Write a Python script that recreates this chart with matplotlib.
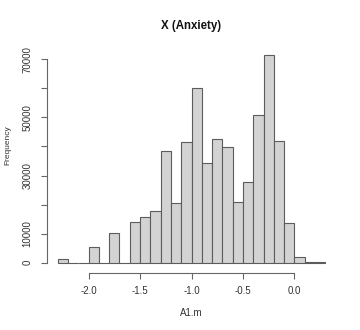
import numpy as np
import matplotlib
matplotlib.use("Agg")
import matplotlib.pyplot as plt

# histogram of A1.m, bins of width 0.1 from -2.3 to 0.3
bin_edges = np.round(np.arange(-2.3, 0.31, 0.1), 2)
counts = [1400, 0, 0, 5300, 0, 10300, 0, 14000, 15600, 17700, 38500, 20600,
          41600, 60200, 34200, 42500, 39900, 21000, 27800, 50900, 71500, 41900,
          13800, 2000, 400, 100]
x_ticks = [-2.0, -1.5, -1.0, -0.5, 0.0]
x_labels = ["-2.0", "-1.5", "-1.0", "-0.5", "0.0"]
y_ticks = [0, 10000, 20000, 30000, 40000, 50000, 60000, 70000]
y_labels = ["0", "10000", "", "30000", "", "50000", "", "70000"]

plt.rcParams['font.family'] = ['Liberation Sans', 'DejaVu Sans']
txt = '#333333'
axcol = '#666666'

fig = plt.figure(figsize=(3.6, 3.3), dpi=100)
ax = fig.add_axes([47 / 360, 57.3 / 330, 289 / 360, 226.1 / 330])

ax.bar(bin_edges[:-1], counts, width=0.1, align='edge',
       color='#d3d3d3', edgecolor='#5c5c5c', linewidth=0.8)

ax.set_xlim(-2.404, 0.404)
ax.set_ylim(-3440, 74370)

for s in ['top', 'right']:
    ax.spines[s].set_visible(False)
ax.spines['left'].set_bounds(0, 70000)
ax.spines['bottom'].set_bounds(-2.0, 0.0)
for s in ['left', 'bottom']:
    ax.spines[s].set_color(axcol)
    ax.spines[s].set_linewidth(0.8)

ax.set_xticks(x_ticks)
ax.set_xticklabels(x_labels)
ax.set_yticks(y_ticks)
ax.set_yticklabels(y_labels, rotation=90, va='center')
ax.tick_params(axis='both', length=4.3, width=0.8, color=axcol,
               labelcolor=txt, labelsize=7)
ax.tick_params(axis='x', pad=5)
ax.tick_params(axis='y', pad=6)

fig.text(191.5 / 360, 1 - 26 / 330, "X (Anxiety)", ha='center', va='center',
         fontsize=8.3, fontweight='bold', color='#111111')
fig.text(191.5 / 360, 1 - 312.7 / 330, "A1.m", ha='center', va='center',
         fontsize=7, color=txt)
fig.text(8.3 / 360, 1 - 145 / 330, "Frequency", ha='center', va='center',
         rotation=90, fontsize=6, color=txt)

fig.savefig("out.png", dpi=100)
